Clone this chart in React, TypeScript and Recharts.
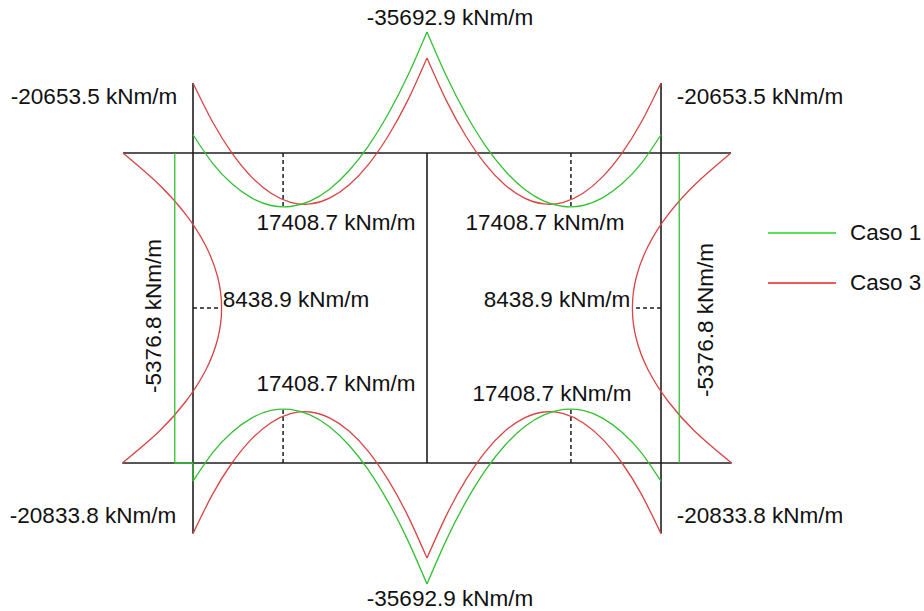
import React from 'react';
import { ComposedChart, Line, XAxis, YAxis } from 'recharts';

// Bending moment diagram of a two-cell box frame, Caso 1 vs Caso 3.
// Frame: two spans of 6 m, walls 7.95 m high. Moments in kNm/m.
const SPAN = 6;
const WIDTH = 2 * SPAN;
const H = 7.95;
const PX_PER_M = 39;
const KNM_PER_M = 11505; // drawing scale of the moment diagrams

// stations along a span (m from the outer wall)
const spanStations = [0, 0.5, 1, 1.5, 2, 2.5, 3, 3.5, 4, 4.5, 5, 5.5, 6];
// top slab, left span (right span is the mirror image)
const caso1Top = [-5376.8, 3000, 9100, 13250, 15500, 15800, 14200, 10700, 5250, -2100, -11400, -22600, -35692.9];
const caso3Top = [-20653.5, -9200, 30, 7050, 11900, 14570, 15050, 13330, 9440, 3360, -4930, -15370, -28030];
// bottom slab, left span
const caso1Bottom = [-5376.8, 3000, 9100, 13250, 15500, 15800, 14200, 10700, 5250, -2100, -11400, -22600, -35692.9];
const caso3Bottom = [-20833.8, -9250, 0, 7030, 11890, 14560, 15050, 13330, 9440, 3360, -4930, -15370, -28030];

// stations along the outer walls (m down from the top slab)
const wallStations = [0, 0.795, 1.59, 2.385, 3.18, 3.975, 4.77, 5.565, 6.36, 7.155, 7.95];
const caso3Wall = [-20653.5, -10180, -2030, 3780, 7280, 8438.9, 7280, 3780, -2030, -10180, -20833.8];
const caso1WallStations = [0, 7.95];
const caso1Wall = [-5376.8, -5376.8];

const maxSagStation = 2.31;
const maxSag = 15800;
const wallMaxStation = 3.975;
const wallMax = 8438.9;

const GREEN = '#33c133';
const RED = '#d94444';
const BLACK = '#1e1e1e';

type P = { x: number; y: number };
const k = (m: number) => m / KNM_PER_M;

const topSpan = (vals: number[], mirror: boolean): P[] =>
  spanStations.map((s, i) => ({ x: mirror ? WIDTH - s : s, y: H - k(vals[i]) }));
const bottomSpan = (vals: number[], mirror: boolean): P[] =>
  spanStations.map((s, i) => ({ x: mirror ? WIDTH - s : s, y: k(vals[i]) }));
const wall = (st: number[], vals: number[], right: boolean): P[] =>
  st.map((d, i) => ({ x: right ? WIDTH - k(vals[i]) : k(vals[i]), y: H - d }));

const red = [
  topSpan(caso3Top, false),
  topSpan(caso3Top, true),
  bottomSpan(caso3Bottom, false),
  bottomSpan(caso3Bottom, true),
  wall(wallStations, caso3Wall, false),
  wall(wallStations, caso3Wall, true),
];
const green = [
  topSpan(caso1Top, false),
  topSpan(caso1Top, true),
  bottomSpan(caso1Bottom, false),
  bottomSpan(caso1Bottom, true),
];
const greenWalls = [
  [...wall(caso1WallStations, caso1Wall, false), { x: 0, y: 0 }, { x: 0, y: k(caso1Bottom[0]) }],
  wall(caso1WallStations, caso1Wall, true),
];

const wallEndTop = k(caso3Wall[0]);
const wallEndBot = k(caso3Wall[caso3Wall.length - 1]);
const frame: P[][] = [
  [{ x: wallEndTop, y: H }, { x: WIDTH - wallEndTop, y: H }],
  [{ x: wallEndBot, y: 0 }, { x: WIDTH - wallEndBot, y: 0 }],
  [{ x: 0, y: H - k(caso3Top[0]) }, { x: 0, y: k(caso3Bottom[0]) }],
  [{ x: WIDTH, y: H - k(caso3Top[0]) }, { x: WIDTH, y: k(caso3Bottom[0]) }],
  [{ x: SPAN, y: 0 }, { x: SPAN, y: H }],
];
const dashed: P[][] = [
  [{ x: maxSagStation, y: H }, { x: maxSagStation, y: H - k(maxSag) }],
  [{ x: WIDTH - maxSagStation, y: H }, { x: WIDTH - maxSagStation, y: H - k(maxSag) }],
  [{ x: maxSagStation, y: 0 }, { x: maxSagStation, y: k(maxSag) }],
  [{ x: WIDTH - maxSagStation, y: 0 }, { x: WIDTH - maxSagStation, y: k(maxSag) }],
  [{ x: 0, y: H - wallMaxStation }, { x: k(wallMax), y: H - wallMaxStation }],
  [{ x: WIDTH, y: H - wallMaxStation }, { x: WIDTH - k(wallMax), y: H - wallMaxStation }],
];

const W = 924;
const HT = 611;
const X0 = 193; // px of the left wall
const Y0 = 463; // px of the bottom slab
const xDomain = [-X0 / PX_PER_M, (W - X0) / PX_PER_M];
const yDomain = [-(HT - Y0) / PX_PER_M, Y0 / PX_PER_M];

const labels = [
  { t: '-35692.9 kNm/m', x: 450, y: 25 },
  { t: '-20653.5 kNm/m', x: 94, y: 104 },
  { t: '-20653.5 kNm/m', x: 760, y: 104 },
  { t: '17408.7 kNm/m', x: 336, y: 230 },
  { t: '17408.7 kNm/m', x: 545, y: 230 },
  { t: '8438.9 kNm/m', x: 296, y: 307 },
  { t: '8438.9 kNm/m', x: 557, y: 307 },
  { t: '17408.7 kNm/m', x: 336, y: 391 },
  { t: '17408.7 kNm/m', x: 552, y: 401 },
  { t: '-20833.8 kNm/m', x: 93, y: 523 },
  { t: '-20833.8 kNm/m', x: 760, y: 523 },
  { t: '-35692.9 kNm/m', x: 450, y: 606 },
];
const font = { fontFamily: '"Liberation Sans", Arial, sans-serif', fontSize: 22.5, fill: '#111' };

export default function App() {
  let n = 0;
  const line = (pts: P[], stroke: string, type: 'linear' | 'natural', extra = {}) => (
    <Line
      key={n++}
      data={pts}
      dataKey="y"
      type={type}
      stroke={stroke}
      strokeWidth={1.3}
      dot={false}
      activeDot={false}
      isAnimationActive={false}
      {...extra}
    />
  );
  return (
    <div style={{ position: 'absolute', left: 0, top: 0, background: '#fff' }}>
      <ComposedChart width={W} height={HT} margin={{ top: 0, right: 0, bottom: 0, left: 0 }}>
        <XAxis type="number" dataKey="x" domain={xDomain} allowDataOverflow hide />
        <YAxis type="number" dataKey="y" domain={yDomain} allowDataOverflow hide />
        {frame.map((p) => line(p, BLACK, 'linear', { strokeWidth: 1.6 }))}
        {dashed.map((p) => line(p, BLACK, 'linear', { strokeWidth: 1.5, strokeDasharray: '4 3' }))}
        {red.map((p) => line(p, RED, 'natural'))}
        {green.map((p) => line(p, GREEN, 'natural'))}
        {greenWalls.map((p) => line(p, GREEN, 'linear'))}
        {labels.map((l, i) => (
          <text key={'l' + i} x={l.x} y={l.y} textAnchor="middle" {...font}>
            {l.t}
          </text>
        ))}
        <text x={161} y={316} textAnchor="middle" transform="rotate(-90 161 316)" {...font}>
          -5376.8 kNm/m
        </text>
        <text x={713} y={320} textAnchor="middle" transform="rotate(-90 713 320)" {...font}>
          -5376.8 kNm/m
        </text>
        <line x1={768} x2={836} y1={233} y2={233} stroke="#22d622" strokeWidth={1.5} />
        <text x={850} y={240} {...font}>Caso 1</text>
        <line x1={768} x2={836} y1={283} y2={283} stroke="#e82020" strokeWidth={1.5} />
        <text x={850} y={290} {...font}>Caso 3</text>
      </ComposedChart>
    </div>
  );
}
